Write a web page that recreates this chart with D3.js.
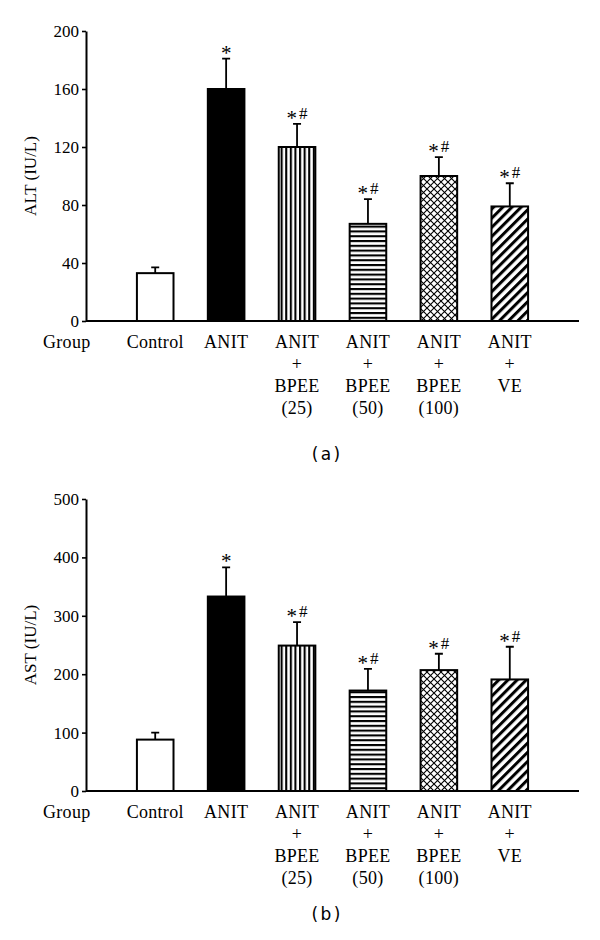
<!DOCTYPE html>
<html><head><meta charset="utf-8">
<script src="https://cdn.jsdelivr.net/npm/d3@7"></script>
<style>body{margin:0;background:#fff;} svg{display:block;}</style>
</head><body>
<svg id="chart" width="600" height="940"></svg>
<script>
const categories = ["Control", "ANIT", "ANIT + BPEE (25)", "ANIT + BPEE (50)", "ANIT + BPEE (100)", "ANIT + VE"];
const labelLines = [["Control"], ["ANIT"], ["ANIT", "+", "BPEE", "(25)"], ["ANIT", "+", "BPEE", "(50)"], ["ANIT", "+", "BPEE", "(100)"], ["ANIT", "+", "VE"]];
const altMeans = [33, 160, 120, 67, 100, 79];
const altErr = [4, 21, 16, 17, 13, 16];
const astMeans = [88, 333, 249, 172, 207, 191];
const astErr = [12, 50, 40, 37, 28, 56];
const marks = ["", "*", "*#", "*#", "*#", "*#"];
const altTicks = [0, 40, 80, 120, 160, 200];
const astTicks = [0, 100, 200, 300, 400, 500];
const fills = ["#fff", "#000", "url(#vstripe)", "url(#hstripe)", "url(#cross)", "url(#diag)"];

const svg = d3.select("#chart");
const defs = svg.append("defs");
// vertical stripes
let p = defs.append("pattern").attr("id", "vstripe").attr("patternUnits", "userSpaceOnUse").attr("width", 4.6).attr("height", 10);
p.append("rect").attr("width", 4.6).attr("height", 10).attr("fill", "#fff");
p.append("rect").attr("x", 0).attr("width", 2.1).attr("height", 10).attr("fill", "#000");
// horizontal stripes
p = defs.append("pattern").attr("id", "hstripe").attr("patternUnits", "userSpaceOnUse").attr("width", 10).attr("height", 4.8);
p.append("rect").attr("width", 10).attr("height", 4.8).attr("fill", "#fff");
p.append("rect").attr("y", 0).attr("width", 10).attr("height", 2.1).attr("fill", "#000");
// crosshatch
p = defs.append("pattern").attr("id", "cross").attr("patternUnits", "userSpaceOnUse").attr("width", 7).attr("height", 7);
p.append("rect").attr("width", 7).attr("height", 7).attr("fill", "#fff");
p.append("path").attr("d", "M-1,-1L8,8M8,-1L-1,8").attr("stroke", "#000").attr("stroke-width", 1.1);
// diagonal
p = defs.append("pattern").attr("id", "diag").attr("patternUnits", "userSpaceOnUse").attr("width", 6.5).attr("height", 10).attr("patternTransform", "rotate(45)");
p.append("rect").attr("width", 6.5).attr("height", 10).attr("fill", "#fff");
p.append("rect").attr("x", 0).attr("width", 3).attr("height", 10).attr("fill", "#000");

const serif = "'Liberation Serif', 'Times New Roman', serif";

function panel(top, bottom, means, errs, ticks, title, caption, captionY) {
  const g = svg.append("g");
  const x = d3.scaleBand().domain(categories).range([86, 579]).paddingInner(0.484).paddingOuter(0.718);
  const y = d3.scaleLinear().domain([0, d3.max(ticks)]).range([bottom, top]);

  // bars
  g.selectAll("rect.bar").data(categories).join("rect")
    .attr("class", "bar")
    .attr("x", d => x(d))
    .attr("width", x.bandwidth())
    .attr("y", (d, i) => y(means[i]))
    .attr("height", (d, i) => y(0) - y(means[i]))
    .attr("fill", (d, i) => fills[i])
    .attr("stroke", "#000").attr("stroke-width", 2);

  // error bars
  g.selectAll("path.err").data(categories).join("path")
    .attr("class", "err")
    .attr("fill", "none").attr("stroke", "#000").attr("stroke-width", 1.8)
    .attr("d", (d, i) => {
      const cx = x(d) + x.bandwidth() / 2;
      const t = y(means[i] + errs[i]);
      return `M${cx},${y(means[i])}V${t}M${cx - 4},${t}H${cx + 4}`;
    });

  // significance marks
  g.selectAll("text.mark").data(categories).join("text")
    .attr("class", "mark")
    .attr("x", d => x(d) + x.bandwidth() / 2)
    .attr("y", (d, i) => y(means[i] + errs[i]) - 5)
    .attr("text-anchor", "middle")
    .attr("font-family", serif).attr("font-size", 17)
    .attr("fill", "#000")
    .each(function (d, i) {
      const t = d3.select(this);
      const m = marks[i];
      if (!m) return;
      t.append("tspan").attr("dy", 6).attr("font-size", 21).text("*");
      if (m.includes("#")) {
        t.append("tspan").attr("dy", -6).attr("dx", 2).text("#");
      }
    });

  // y axis
  const ya = g.append("g").attr("transform", "translate(86,0)")
    .call(d3.axisLeft(y).tickValues(ticks).tickSize(4).tickSizeOuter(0).tickPadding(3));
  ya.select(".domain").attr("stroke-width", 2);
  ya.selectAll(".tick line").attr("stroke-width", 1.6);
  ya.selectAll("text").attr("font-family", serif).attr("font-size", 17).attr("fill", "#000");

  // x axis baseline
  const xa = g.append("g").attr("transform", `translate(0,${bottom})`)
    .call(d3.axisBottom(x).tickSize(0).tickFormat(""));
  xa.select(".domain").attr("stroke-width", 2).attr("d", `M86,0H579`);

  // category labels
  const lab = g.selectAll("text.cat").data(categories).join("text")
    .attr("class", "cat")
    .attr("text-anchor", "middle")
    .attr("font-family", serif).attr("font-size", 18)
    .attr("letter-spacing", "0.3px")
    .attr("transform", d => `translate(${x(d) + x.bandwidth() / 2},${bottom + 27})`);
  lab.each(function (d, i) {
    const t = d3.select(this);
    labelLines[i].forEach((ln, j) => {
      t.append("tspan").attr("x", 0).attr("dy", j === 0 ? 0 : 22).text(ln);
    });
  });
  g.append("text").attr("x", 43).attr("y", bottom + 27)
    .attr("font-family", serif).attr("font-size", 18).attr("letter-spacing", "0.3px").text("Group");

  // y title
  g.append("text")
    .attr("transform", `translate(36,${(top + bottom) / 2}) rotate(-90)`)
    .attr("text-anchor", "middle")
    .attr("font-family", serif).attr("font-size", 17)
    .text(title);

  // caption
  g.append("text").attr("x", 326).attr("y", captionY)
    .attr("text-anchor", "middle")
    .attr("font-family", "'DejaVu Sans', sans-serif").attr("font-size", 17)
    .attr("word-spacing", "-3px")
    .text(caption);
}

panel(31, 321, altMeans, altErr, altTicks, "ALT (IU/L)", "( a )", 460);
panel(499, 791, astMeans, astErr, astTicks, "AST (IU/L)", "( b )", 920);
</script>
</body></html>
